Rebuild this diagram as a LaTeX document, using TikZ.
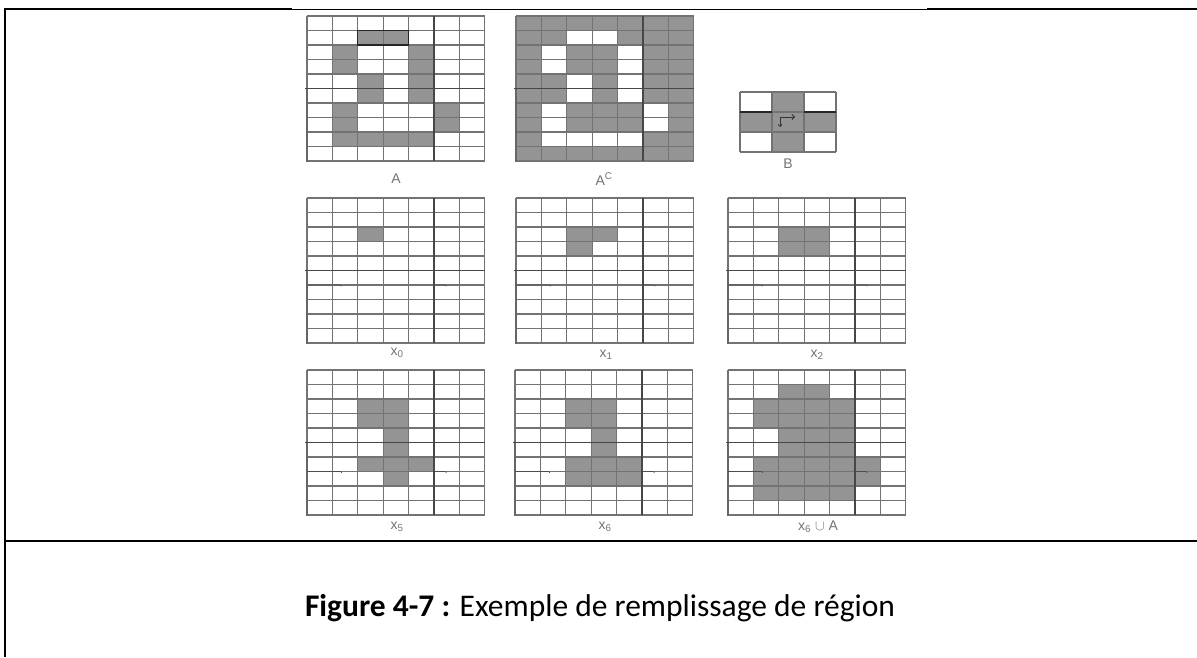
\documentclass[tikz,border=0pt]{standalone}
\usepackage{fontspec}
\setmainfont{Carlito}
\newfontfamily\labelfont{Liberation Sans}
\usetikzlibrary{arrows.meta}

\newcommand\cellw{25.4}
\newcommand\cellh{14.5}
\newcommand\regionA{2/1,3/1,1/2,4/2,1/3,4/3,2/4,4/4,2/5,4/5,1/6,5/6,1/7,5/7,1/8,2/8,3/8,4/8}
\newcommand\regionXsix{2/2,3/2,2/3,3/3,3/4,3/5,2/6,3/6,4/6,2/7,3/7,4/7}

\tikzset{
  cellfill/.style={fill=black!42},
  gridline/.style={draw=black!55, line width=1.3pt},
  heavyline/.style={draw=black!72, line width=1.3pt},
  edgeline/.style={draw=black!60, line width=2.2pt},
  markline/.style={draw=black!70, line width=0.6pt},
  seedline/.style={draw=black!85, line width=1.3pt},
  gridlabel/.style={font=\labelfont\fontsize{14}{16}\selectfont, text=black!55, inner sep=1pt},
  caption/.style={font=\fontsize{31.5}{36}\selectfont, text=black, inner sep=0pt},
  framerule/.style={draw=black, line width=1.2pt},
  pics/cellgrid/.style={code={
    \foreach \i in {0,...,7}
      \draw[gridline] (\i*\cellw,0) -- (\i*\cellw,10*\cellh);
    \foreach \j in {0,...,10}
      \draw[gridline] (0,\j*\cellh) -- (7*\cellw,\j*\cellh);
    \draw[heavyline] (5*\cellw,0) -- (5*\cellw,10*\cellh);
    \draw[heavyline] (-2,5*\cellh) -- (7*\cellw,5*\cellh);
    \draw[edgeline] (0,5*\cellh) -- (0,10*\cellh+1);
  }},
  pics/scanmark/.style={code={
    \draw[markline] (0,#1*\cellh) -- (\cellw+8,#1*\cellh) -- ++(1.5,1.2);
    \draw[markline] (5*\cellw,#1*\cellh) -- ++(11,0) -- ++(1.5,1.2);
  }},
}

\begin{document}
\begin{tikzpicture}[x=1pt, y=-1pt]
  \useasboundingbox (0,0) rectangle (1197,657);

  % Frame of the table cell
  \draw[framerule] (5,657) -- (5,9) -- (292,9);
  \draw[black, line width=0.7pt] (292,9) -- (927,9);
  \draw[framerule] (927,9) -- (1197,9);
  \draw[framerule] (5,541) -- (1197,541);

  % Region A
  \begin{scope}[shift={(307,16)}]
    \foreach \c/\r in \regionA
      \fill[cellfill] (\c*\cellw,\r*\cellh) rectangle ++(\cellw,\cellh);
    \pic {cellgrid};
    \draw[seedline] (2*\cellw,\cellh) rectangle (4*\cellw,2*\cellh);
  \end{scope}
  \node[gridlabel] (labA) at (396,179) {A};

  % Complement of A
  \begin{scope}[shift={(516,16)}]
    \fill[cellfill] (0,0) rectangle (7*\cellw,10*\cellh);
    \foreach \c/\r in \regionA
      \fill[white] (\c*\cellw,\r*\cellh) rectangle ++(\cellw,\cellh);
    \pic {cellgrid};
  \end{scope}
  \node[gridlabel] (labAc) at (604,179) {A\textsuperscript{C}};

  % Structuring element B
  \begin{scope}[shift={(740,92)}]
    \fill[cellfill] (32,0) rectangle (64,60);
    \fill[cellfill] (0,20) rectangle (96,40);
    \foreach \i in {0,...,3}
      \draw[gridline] (\i*32,0) -- (\i*32,60);
    \foreach \j in {0,...,3}
      \draw[gridline] (0,\j*20) -- (96,\j*20);
    \draw[black!85, line width=1.3pt] (0,20) -- (32,20) (64,20) -- (96,20);
    \draw[black!80, line width=0.8pt, {Straight Barb[length=2pt]}-{Straight Barb[length=2.5pt]}]
      (40,35) -- (40,25) -- (55,25);
  \end{scope}
  \node[gridlabel] (labB) at (788,164) {B};

  % Iteration x0
  \begin{scope}[shift={(307,198)}]
    \fill[cellfill] (2*\cellw,2*\cellh) rectangle ++(\cellw,\cellh);
    \pic {cellgrid};
    \pic {scanmark=6};
  \end{scope}
  \node[gridlabel] (labX0) at (397,353) {x\textsubscript{0}};

  % Iteration x1
  \begin{scope}[shift={(516,198)}]
    \foreach \c/\r in {2/2,3/2,2/3}
      \fill[cellfill] (\c*\cellw,\r*\cellh) rectangle ++(\cellw,\cellh);
    \pic {cellgrid};
    \pic {scanmark=6};
  \end{scope}
  \node[gridlabel] (labX1) at (606,355) {x\textsubscript{1}};

  % Iteration x2
  \begin{scope}[shift={(728,198)}]
    \foreach \c/\r in {2/2,3/2,2/3,3/3}
      \fill[cellfill] (\c*\cellw,\r*\cellh) rectangle ++(\cellw,\cellh);
    \pic {cellgrid};
    \pic {scanmark=6};
  \end{scope}
  \node[gridlabel] (labX2) at (817,355) {x\textsubscript{2}};

  % Iteration x5
  \begin{scope}[shift={(307,370)}]
    \foreach \c/\r in {2/2,3/2,2/3,3/3,3/4,3/5,2/6,3/6,4/6,3/7}
      \fill[cellfill] (\c*\cellw,\r*\cellh) rectangle ++(\cellw,\cellh);
    \pic {cellgrid};
    \pic {scanmark=7};
  \end{scope}
  \node[gridlabel] (labX5) at (397,527) {x\textsubscript{5}};

  % Iteration x6
  \begin{scope}[shift={(515,370)}]
    \foreach \c/\r in \regionXsix
      \fill[cellfill] (\c*\cellw,\r*\cellh) rectangle ++(\cellw,\cellh);
    \pic {cellgrid};
    \pic {scanmark=7};
  \end{scope}
  \node[gridlabel] (labX6) at (605,527) {x\textsubscript{6}};

  % Filled region x6 union A
  \begin{scope}[shift={(728,370)}]
    \foreach \c/\r in \regionA
      \fill[cellfill] (\c*\cellw,\r*\cellh) rectangle ++(\cellw,\cellh);
    \foreach \c/\r in \regionXsix
      \fill[cellfill] (\c*\cellw,\r*\cellh) rectangle ++(\cellw,\cellh);
    \pic {cellgrid};
    \pic {scanmark=7};
  \end{scope}
  \node[gridlabel] (labUnion) at (818,527) {x\textsubscript{6} $\cup$ A};

  % Caption
  \node[caption] (cap) at (600,608) {\textbf{Figure 4-7 :} Exemple de remplissage de région};
\end{tikzpicture}
\end{document}
